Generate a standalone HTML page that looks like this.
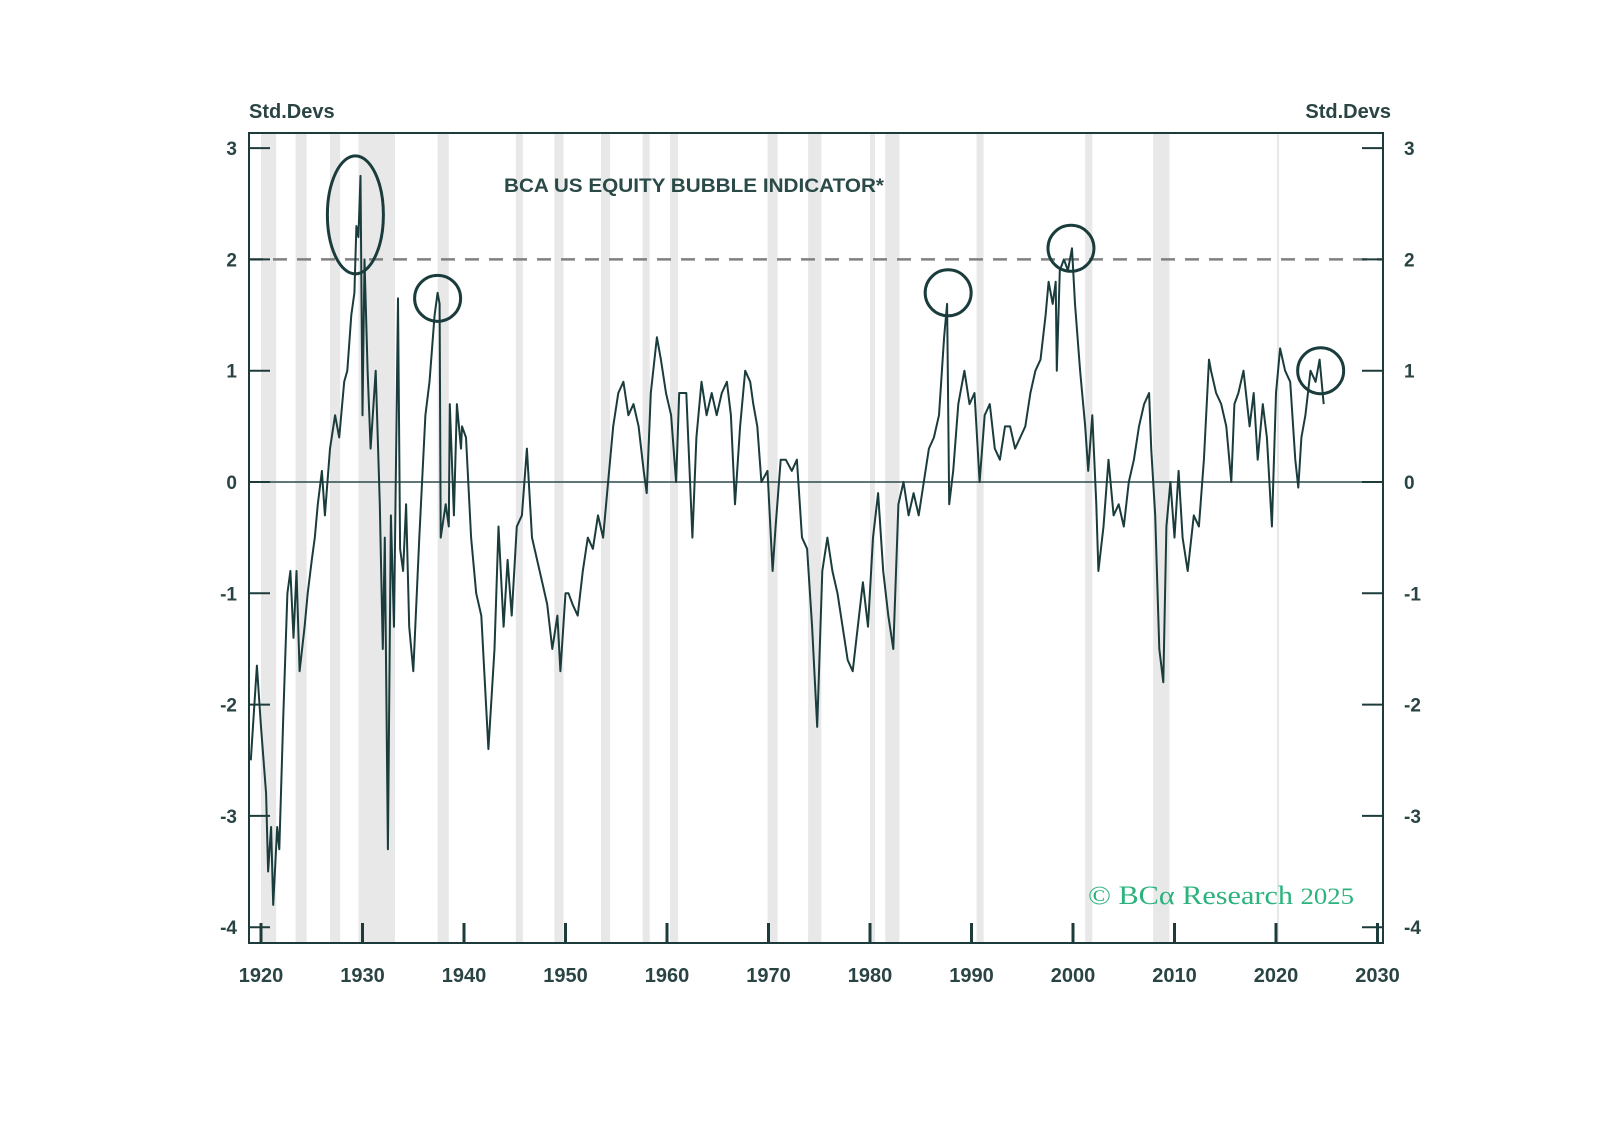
<!DOCTYPE html>
<html><head><meta charset="utf-8"><style>
html,body{margin:0;padding:0;background:#fff;}
svg{display:block;}
text{font-family:"Liberation Sans",sans-serif;}
</style></head><body>
<svg id="chart" width="1598" height="1144" viewBox="0 0 1598 1144" xmlns="http://www.w3.org/2000/svg">
<g id="shades"></g>
<g id="grid"></g>
<g id="series"></g>
<g id="axes"></g>
<g id="circles"></g>
<text x="249" y="118" font-size="20" font-weight="bold" fill="#2a4444">Std.Devs</text>
<text x="1391" y="118" font-size="20" font-weight="bold" fill="#2a4444" text-anchor="end">Std.Devs</text>
<text x="504" y="192" font-size="19" font-weight="bold" fill="#2a4a48" textLength="380" lengthAdjust="spacingAndGlyphs">BCA US EQUITY BUBBLE INDICATOR*</text>
<text x="1088" y="904" font-size="26" fill="#2bb37d" style="font-family:'Liberation Serif',serif" textLength="266" lengthAdjust="spacingAndGlyphs">© BCα Research <tspan font-size="23">2025</tspan></text>
</svg>
<script>
const yearsKey=[1919.0,1919.6,1920.0,1920.5,1920.7,1921.0,1921.2,1921.6,1921.8,1922.2,1922.6,1922.9,1923.2,1923.5,1923.8,1924.3,1924.6,1925.0,1925.3,1925.6,1926.0,1926.3,1926.8,1927.3,1927.7,1928.2,1928.5,1928.9,1929.2,1929.4,1929.6,1929.8,1930.0,1930.2,1930.5,1930.8,1931.3,1931.7,1932.0,1932.2,1932.5,1932.8,1933.1,1933.5,1933.7,1934.0,1934.3,1934.6,1935.0,1935.6,1936.2,1936.6,1937.1,1937.4,1937.6,1937.7,1938.2,1938.5,1938.6,1939.0,1939.3,1939.7,1939.8,1940.2,1940.7,1941.2,1941.7,1942.4,1943.0,1943.4,1943.9,1944.3,1944.7,1945.2,1945.7,1946.2,1946.7,1947.2,1947.7,1948.2,1948.7,1949.2,1949.5,1950.0,1950.3,1950.7,1951.2,1951.7,1952.2,1952.7,1953.2,1953.7,1954.2,1954.7,1955.2,1955.7,1956.2,1956.7,1957.2,1957.7,1958.0,1958.4,1959.0,1959.4,1959.9,1960.4,1960.9,1961.2,1961.9,1962.5,1962.9,1963.4,1963.9,1964.4,1964.9,1965.4,1965.9,1966.3,1966.7,1967.2,1967.7,1968.2,1968.5,1968.9,1969.3,1969.9,1970.4,1970.7,1971.2,1971.7,1972.3,1972.8,1973.3,1973.8,1974.3,1974.8,1975.3,1975.8,1976.3,1976.8,1977.3,1977.8,1978.3,1978.8,1979.3,1979.8,1980.3,1980.8,1981.3,1981.8,1982.3,1982.8,1983.3,1983.8,1984.3,1984.8,1985.3,1985.8,1986.3,1986.8,1987.3,1987.6,1987.8,1988.2,1988.7,1989.3,1989.8,1990.3,1990.8,1991.3,1991.8,1992.3,1992.8,1993.3,1993.8,1994.3,1994.8,1995.3,1995.8,1996.3,1996.8,1997.3,1997.6,1998.0,1998.3,1998.4,1998.7,1999.1,1999.5,1999.9,2000.2,2000.7,2001.2,2001.5,2001.9,2002.3,2002.5,2003.0,2003.5,2004.0,2004.5,2005.0,2005.5,2006.0,2006.5,2007.0,2007.5,2007.7,2008.1,2008.5,2008.9,2009.2,2009.6,2010.0,2010.4,2010.8,2011.3,2011.9,2012.4,2012.9,2013.4,2013.6,2014.1,2014.6,2015.1,2015.6,2015.9,2016.3,2016.8,2017.4,2017.8,2018.2,2018.7,2019.1,2019.6,2020.0,2020.4,2020.9,2021.4,2021.9,2022.2,2022.5,2022.9,2023.4,2023.9,2024.3,2024.7,2024.9];
const valuesKey=[-2.5,-1.65,-2.2,-2.8,-3.5,-3.1,-3.8,-3.1,-3.3,-2.1,-1.0,-0.8,-1.4,-0.8,-1.7,-1.3,-1.0,-0.7,-0.5,-0.2,0.1,-0.3,0.3,0.6,0.4,0.9,1.0,1.5,1.7,2.3,2.2,2.75,0.6,2.0,1.0,0.3,1.0,-0.2,-1.5,-0.5,-3.3,-0.3,-1.3,1.65,-0.6,-0.8,-0.2,-1.3,-1.7,-0.5,0.6,0.9,1.5,1.7,1.6,-0.5,-0.2,-0.4,0.7,-0.3,0.7,0.3,0.5,0.4,-0.5,-1.0,-1.2,-2.4,-1.5,-0.4,-1.3,-0.7,-1.2,-0.4,-0.3,0.3,-0.5,-0.7,-0.9,-1.1,-1.5,-1.2,-1.7,-1.0,-1.0,-1.1,-1.2,-0.8,-0.5,-0.6,-0.3,-0.5,0.0,0.5,0.8,0.9,0.6,0.7,0.5,0.1,-0.1,0.8,1.3,1.1,0.8,0.6,0.0,0.8,0.8,-0.5,0.4,0.9,0.6,0.8,0.6,0.8,0.9,0.6,-0.2,0.5,1.0,0.9,0.7,0.5,0.0,0.1,-0.8,-0.4,0.2,0.2,0.1,0.2,-0.5,-0.6,-1.3,-2.2,-0.8,-0.5,-0.8,-1.0,-1.3,-1.6,-1.7,-1.3,-0.9,-1.3,-0.5,-0.1,-0.8,-1.2,-1.5,-0.2,0.0,-0.3,-0.1,-0.3,0.0,0.3,0.4,0.6,1.3,1.6,-0.2,0.1,0.7,1.0,0.7,0.8,0.0,0.6,0.7,0.3,0.2,0.5,0.5,0.3,0.4,0.5,0.8,1.0,1.1,1.5,1.8,1.6,1.8,1.0,1.9,2.0,1.9,2.1,1.6,1.0,0.5,0.1,0.6,-0.2,-0.8,-0.4,0.2,-0.3,-0.2,-0.4,0.0,0.2,0.5,0.7,0.8,0.3,-0.3,-1.5,-1.8,-0.4,0.0,-0.5,0.1,-0.5,-0.8,-0.3,-0.4,0.2,1.1,1.0,0.8,0.7,0.5,0.0,0.7,0.8,1.0,0.5,0.8,0.2,0.7,0.4,-0.4,0.8,1.2,1.0,0.9,0.2,-0.05,0.4,0.6,1.0,0.9,1.1,0.7];
const recessionStart=[1920.0,1923.4,1926.8,1929.6,1937.4,1945.1,1948.9,1953.5,1957.6,1960.3,1969.9,1973.9,1980.0,1981.5,1990.5,2001.2,2007.9,2020.1];
const recessionEnd=[1921.5,1924.5,1927.8,1933.2,1938.5,1945.8,1949.8,1954.4,1958.3,1961.1,1970.9,1975.2,1980.5,1982.9,1991.2,2001.9,2009.5,2020.3];
const yTicks=[3,2,1,0,-1,-2,-3,-4];
const xTicks=[1920,1930,1940,1950,1960,1970,1980,1990,2000,2010,2020,2030];
const circleYears=[1937.4,1987.7,1999.8,2024.4];
const circleValues=[1.65,1.7,2.1,1.0];
const bigEllipseYear=[1929.3];
const bigEllipseValue=[2.4];

const X=y=>261+(y-1920)*10.15;
const Y=v=>482-v*111.3;
const L=249,R=1383,T=133,B=943;
const NS="http://www.w3.org/2000/svg";
function mk(tag,attrs,parent){const e=document.createElementNS(NS,tag);for(const k in attrs)e.setAttribute(k,attrs[k]);parent.appendChild(e);return e;}
const gS=document.getElementById('shades'),gG=document.getElementById('grid'),gSe=document.getElementById('series'),gA=document.getElementById('axes'),gC=document.getElementById('circles');
recessionStart.forEach((s,i)=>{
  const r=mk('rect',{x:X(s),y:T,width:Math.max(2,X(recessionEnd[i])-X(s)),height:B-T,fill:'#e8e8e8'},gS);
  
  
});
const z=mk('line',{x1:L,x2:R,y1:Y(0),y2:Y(0),stroke:'#2d4a4a','stroke-width':1.5},gG);


const d2=mk('line',{x1:L,x2:R,y1:Y(2),y2:Y(2),stroke:'#808080','stroke-width':2.5,'stroke-dasharray':'14 10'},gG);


let pd='';yearsKey.forEach((y,i)=>{pd+=(i?'L':'M')+X(y).toFixed(1)+' '+Y(valuesKey[i]).toFixed(1);});
const p=mk('path',{d:pd,fill:'none',stroke:'#1b3c3c','stroke-width':2,'stroke-linejoin':'round'},gSe);


const fr=mk('rect',{x:L,y:T,width:R-L,height:B-T,fill:'none',stroke:'#1e3b3b','stroke-width':2},gA);


yTicks.forEach(v=>{
  mk('line',{x1:L,x2:L+21,y1:Y(v),y2:Y(v),stroke:'#1e3b3b','stroke-width':2},gA);
  mk('line',{x1:R-21,x2:R,y1:Y(v),y2:Y(v),stroke:'#1e3b3b','stroke-width':2},gA);
  const t1=mk('text',{x:237,y:Y(v)+7,'font-size':19,'font-weight':'bold',fill:'#2a4444','text-anchor':'end'},gA);t1.textContent=v;
  
  
  const t2=mk('text',{x:1404,y:Y(v)+7,'font-size':19,'font-weight':'bold',fill:'#2a4444'},gA);t2.textContent=v;
  
  
});
xTicks.forEach(y=>{
  mk('line',{x1:X(y),x2:X(y),y1:B,y2:B-20,stroke:'#1e3b3b','stroke-width':3},gA);
  const t=mk('text',{x:X(y),y:982,'font-size':20,'font-weight':'bold',fill:'#2a4444','text-anchor':'middle'},gA);t.textContent=y;
  
  
});
circleYears.forEach((y,i)=>{
  const c=mk('circle',{cx:X(y),cy:Y(circleValues[i]),r:23,fill:'none',stroke:'#1b3c3c','stroke-width':3},gC);
  
  
});
const el=mk('ellipse',{cx:X(bigEllipseYear[0]),cy:Y(bigEllipseValue[0]),rx:28,ry:59,fill:'none',stroke:'#1b3c3c','stroke-width':3},gC);


</script>
</body></html>
